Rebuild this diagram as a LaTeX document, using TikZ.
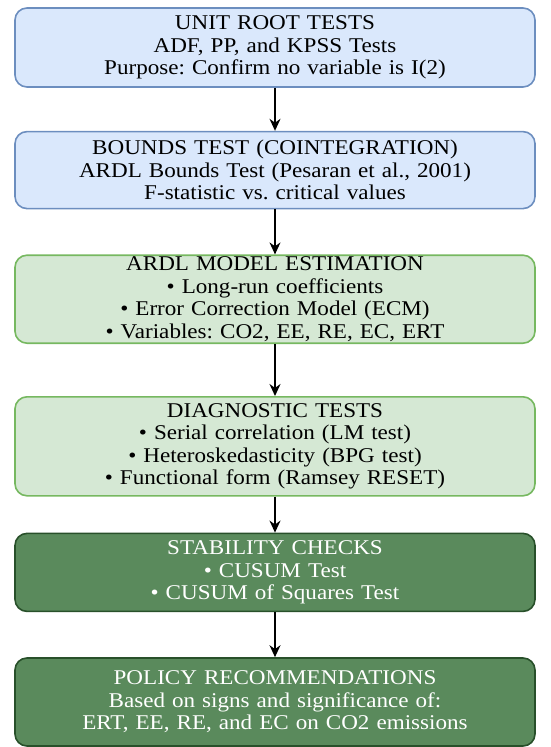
\documentclass[tikz,border=0pt]{standalone}
\usepackage{fontspec}
\setmainfont{Liberation Serif}[FakeStretch=1.1]
\usetikzlibrary{arrows.meta,positioning}
\definecolor{blueface}{RGB}{218,232,252}
\definecolor{blueline}{RGB}{108,142,191}
\definecolor{greenface}{RGB}{213,232,212}
\definecolor{greenline}{RGB}{118,184,96}
\definecolor{darkface}{RGB}{90,138,92}
\definecolor{darkline}{RGB}{40,80,42}
\frenchspacing

\begin{document}
\begin{tikzpicture}[->,>={Stealth[length=12pt,width=11pt]},line width=1.5pt,
                    font=\fontsize{21}{22.5}\selectfont, x=1pt, y=1pt]
  \tikzstyle{stage}=[rectangle,rounded corners=12pt,line width=1.6pt,text width=520pt,
                     align=center,inner sep=0pt]
  \tikzstyle{bluebox}=[stage,fill=blueface,draw=blueline]
  \tikzstyle{greenbox}=[stage,fill=greenface,draw=greenline]
  \tikzstyle{darkbox}=[stage,fill=darkface,draw=darkline,text=white]

  \useasboundingbox (0,0) rectangle (550,-747);

  \node[bluebox,minimum height=79pt] (U) at (275,-47.5)
       {UNIT ROOT TESTS\\ADF, PP, and KPSS Tests\\Purpose: Confirm no variable is I(2)};
  \node[bluebox,minimum height=77pt] (B) [below=43pt of U]
       {BOUNDS TEST (COINTEGRATION)\\ARDL Bounds Test (Pesaran et al., 2001)\\F-statistic vs. critical values};
  \node[greenbox,minimum height=88pt] (E) [below=45pt of B]
       {ARDL MODEL ESTIMATION\\\textbullet{} Long-run coefficients\\\textbullet{} Error Correction Model (ECM)\\\textbullet{} Variables: CO2, EE, RE, EC, ERT};
  \node[greenbox,minimum height=99pt] (D) [below=52pt of E]
       {DIAGNOSTIC TESTS\\\textbullet{} Serial correlation (LM test)\\\textbullet{} Heteroskedasticity (BPG test)\\\textbullet{} Functional form (Ramsey RESET)};
  \node[darkbox,minimum height=78pt] (S) [below=36pt of D]
       {STABILITY CHECKS\\\textbullet{} CUSUM Test\\\textbullet{} CUSUM of Squares Test};
  \node[darkbox,minimum height=88pt] (P) [below=45pt of S]
       {POLICY RECOMMENDATIONS\\Based on signs and significance of:\\ERT, EE, RE, and EC on CO2 emissions};

  \path (U) edge (B)
        (B) edge (E)
        (E) edge (D)
        (D) edge (S)
        (S) edge (P);

\end{tikzpicture}
\end{document}
